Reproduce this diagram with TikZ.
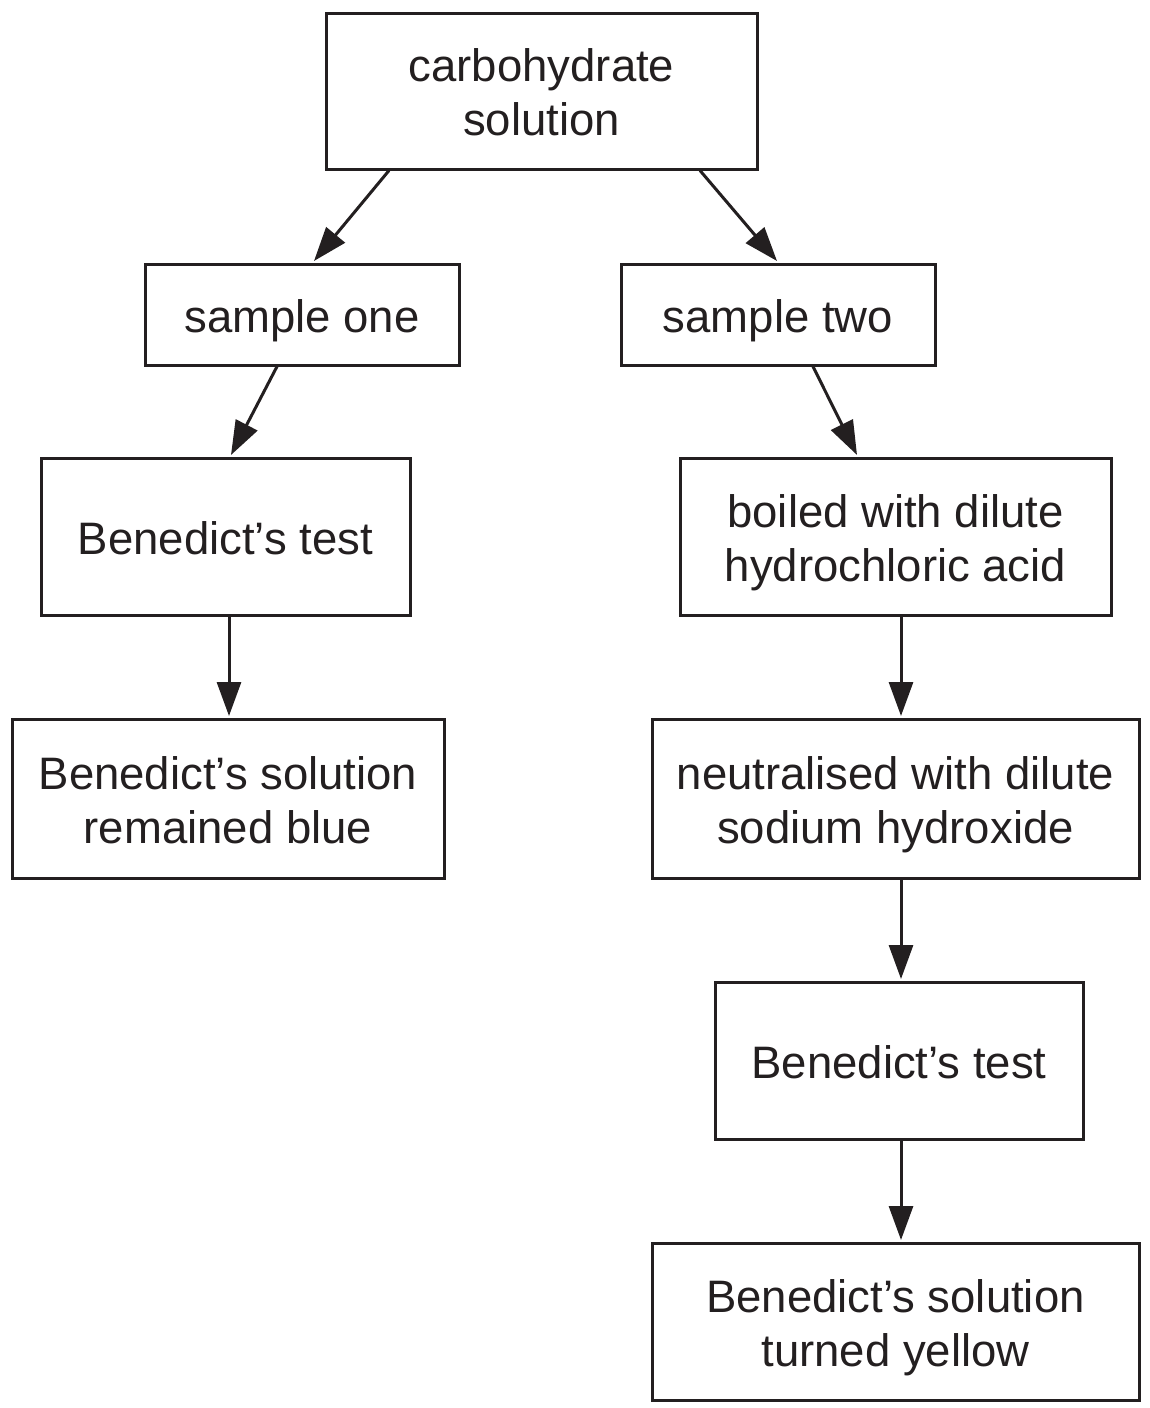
\documentclass[tikz,border=0pt]{standalone}
\usepackage{fontspec}
\setmainfont{Liberation Sans}
\usetikzlibrary{calc,arrows.meta}
\definecolor{ink}{HTML}{231F20}
\newcommand\bxtext[1]{\raisebox{0pt}[\dimexpr\height+14pt\relax][\depth]{\begin{tabular}{@{}c@{}}#1\end{tabular}}}
\begin{document}
\begin{tikzpicture}[x=1pt,y=-1pt,
  box/.style={draw=ink,line width=3pt,inner sep=0pt,text=ink,
    font=\fontsize{45.5}{54}\selectfont},
  arr/.style={draw=ink,line width=3pt,-{Triangle[length=34pt,width=24pt]}}]
\useasboundingbox (0,0) rectangle (1149,1408);
\node[box,minimum width=431pt,minimum height=156pt] (c) at (541.5,91) {\bxtext{carbohydrate\\solution}};
\node[box,minimum width=314pt,minimum height=101pt] (s1) at (302,314.5) {\bxtext{sample one}};
\node[box,minimum width=314pt,minimum height=101pt] (s2) at (778,314.5) {\bxtext{sample two}};
\node[box,minimum width=369pt,minimum height=157pt] (bt1) at (225.5,536.5) {\bxtext{Benedict’s test}};
\node[box,minimum width=431pt,minimum height=157pt] (boil) at (895.5,536.5) {\bxtext{boiled with dilute\\hydrochloric acid}};
\node[box,minimum width=432pt,minimum height=159pt] (blue) at (228,798.5) {\bxtext{Benedict’s solution\\remained blue}};
\node[box,minimum width=487pt,minimum height=159pt] (neut) at (895.5,798.5) {\bxtext{neutralised with dilute\\sodium hydroxide}};
\node[box,minimum width=368pt,minimum height=157pt] (bt2) at (899,1060.5) {\bxtext{Benedict’s test}};
\node[box,minimum width=487pt,minimum height=157pt] (yel) at (895.5,1321.5) {\bxtext{Benedict’s solution\\turned yellow}};
\draw[arr] ($(c.south)+(-152.5,0)$) -- ($(s1.north)+(12,-1.5)$);
\draw[arr] ($(c.south)+(158.5,0)$) -- ($(s2.north)+(-1,-1.5)$);
\draw[arr] ($(s1.south)+(-25,0)$) -- ($(bt1.north)+(5.5,-1.5)$);
\draw[arr] ($(s2.south)+(35,0)$) -- ($(boil.north)+(-38.5,-1.5)$);
\draw[arr] ($(bt1.south)+(3.5,0)$) -- ($(blue.north)+(1,-1.5)$);
\draw[arr] ($(boil.south)+(5.5,0)$) -- ($(neut.north)+(5.5,-1.5)$);
\draw[arr] ($(neut.south)+(5.5,0)$) -- ($(bt2.north)+(2,-1.5)$);
\draw[arr] ($(bt2.south)+(2,0)$) -- ($(yel.north)+(5.5,-1.5)$);
\end{tikzpicture}
\end{document}
